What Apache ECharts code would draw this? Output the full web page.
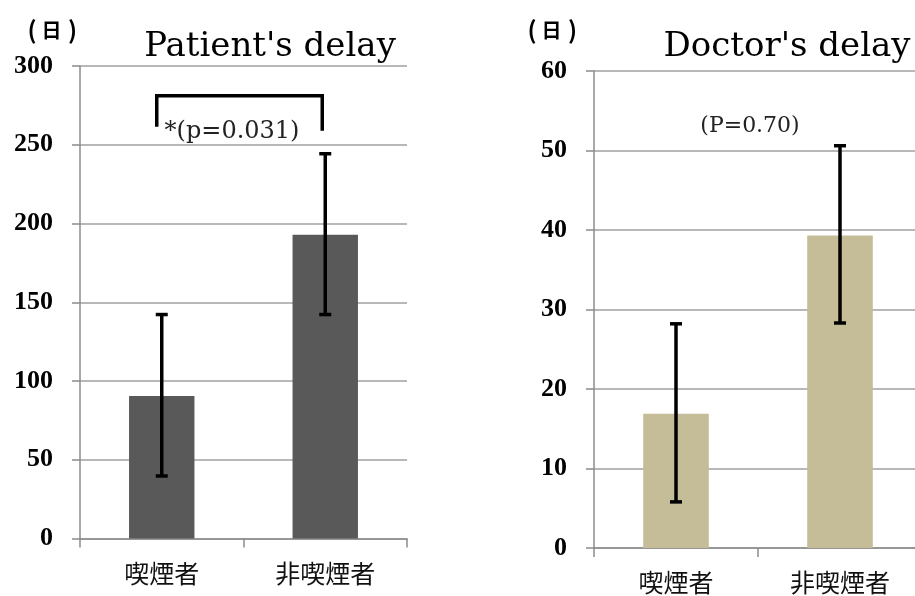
<!DOCTYPE html>
<html>
<head>
<meta charset="utf-8">
<script src="https://cdn.jsdelivr.net/npm/echarts@6/dist/echarts.min.js"></script>
<style>html,body{margin:0;padding:0;background:#fff;}#c{width:915px;height:596px;}</style>
</head>
<body>
<div id="c"></div>
<script>
// ---- data ----
const categories = ['喫煙者', '非喫煙者'];
const patientMean = [90.5, 192.8];
const patientLow = [39.7, 142.2];
const patientHigh = [142.2, 244.3];
const doctorMean = [16.9, 39.3];
const doctorLow = [5.8, 28.3];
const doctorHigh = [28.2, 50.6];
const patientAxis = { min: 0, max: 300, interval: 50 };
const doctorAxis = { min: 0, max: 60, interval: 10 };
// significance bracket for Patient's delay: [top, left bottom, right bottom]
const bracketLevels = [281.1, 261.4, 258.9];
const titles = ["Patient's delay", "Doctor's delay"];
const unitLabel = ['(', '日', ')'];
const pLabels = ['*(p=0.031)', '(P=0.70)'];

const chart = echarts.init(document.getElementById('c'));

const serif = '"DejaVu Serif", "Liberation Serif", serif';
const tickFont = '"Liberation Serif", "DejaVu Serif", serif';
const cjk = '"Noto Sans CJK JP", "Noto Sans CJK SC", sans-serif';

function errData(lo, hi) { return lo.map((v, i) => [i, v, hi[i]]); }

function errRender(params, api) {
  const x = api.value(0);
  const lo = api.coord([x, api.value(1)]);
  const hi = api.coord([x, api.value(2)]);
  const half = 6;
  const st = { stroke: '#000', lineWidth: 3.5 };
  return {
    type: 'group',
    children: [
      { type: 'line', shape: { x1: lo[0], y1: lo[1], x2: hi[0], y2: hi[1] }, style: st },
      { type: 'line', shape: { x1: lo[0] - half, y1: lo[1], x2: lo[0] + half, y2: lo[1] }, style: st },
      { type: 'line', shape: { x1: hi[0] - half, y1: hi[1], x2: hi[0] + half, y2: hi[1] }, style: st }
    ]
  };
}

function yAxisCfg(gridIndex, a) {
  return {
    type: 'value', gridIndex: gridIndex, min: a.min, max: a.max, interval: a.interval,
    axisLine: { show: true, lineStyle: { color: '#8c8c8c', width: 1.5 } },
    axisTick: { show: true, length: 8, lineStyle: { color: '#8c8c8c', width: 1.5 } },
    splitLine: { show: true, lineStyle: { color: '#a0a0a0', width: 1.5 } },
    axisLabel: { margin: 27, color: '#000', fontFamily: tickFont, fontWeight: 'bold', fontSize: 26 }
  };
}
function xAxisCfg(gridIndex) {
  return {
    type: 'category', gridIndex: gridIndex, data: categories,
    axisLine: { show: true, lineStyle: { color: '#8c8c8c', width: 1.5 } },
    axisTick: { show: true, length: 9, alignWithLabel: false, lineStyle: { color: '#8c8c8c', width: 1.5 } },
    axisLabel: { margin: 22, color: '#111', fontFamily: cjk, fontSize: 25 }
  };
}

function txt(x, y, text, size, family, weight, align, vAlign, fill) {
  return {
    type: 'text', x: x, y: y,
    style: { text: text, fontSize: size, fontFamily: family, fontWeight: weight, fill: fill || '#000', align: align, verticalAlign: vAlign }
  };
}

function unitText(x0) {
  const xs = [x0, x0 + 19.5, x0 + 40.5];
  return unitLabel.map((c, i) => txt(xs[i], 30, c, i === 1 ? 20 : 24, cjk, 'bold', 'center', 'middle'));
}

chart.setOption({
  animation: false,
  grid: [
    { left: 80, top: 66, width: 327, height: 472.5, outerBoundsMode: 'none', containLabel: false },
    { left: 594, top: 71, width: 328, height: 477, outerBoundsMode: 'none', containLabel: false }
  ],
  xAxis: [xAxisCfg(0), xAxisCfg(1)],
  yAxis: [yAxisCfg(0, patientAxis), yAxisCfg(1, doctorAxis)],
  series: [
    { type: 'bar', xAxisIndex: 0, yAxisIndex: 0, data: patientMean, barWidth: '40%', itemStyle: { color: '#595959' } },
    { type: 'bar', xAxisIndex: 1, yAxisIndex: 1, data: doctorMean, barWidth: '40%', itemStyle: { color: '#c4bd97' } },
    { type: 'custom', xAxisIndex: 0, yAxisIndex: 0, data: errData(patientLow, patientHigh), renderItem: errRender, z: 5 },
    { type: 'custom', xAxisIndex: 1, yAxisIndex: 1, data: errData(doctorLow, doctorHigh), renderItem: errRender, z: 5 },
    {
      type: 'custom', xAxisIndex: 0, yAxisIndex: 0, z: 5,
      data: [[0, 1].concat(bracketLevels)],
      renderItem: function (params, api) {
        const top = api.value(2);
        const lt = api.coord([api.value(0), top]);
        const rt = api.coord([api.value(1), top]);
        const lb = api.coord([api.value(0), api.value(3)]);
        const rb = api.coord([api.value(1), api.value(4)]);
        const lx = lt[0] - 5, rx = rt[0] - 3;
        return {
          type: 'polyline',
          shape: { points: [[lx, lb[1]], [lx, lt[1]], [rx, rt[1]], [rx, rb[1]]] },
          style: { stroke: '#000', lineWidth: 3.5, fill: null }
        };
      }
    }
  ],
  graphic: unitText(32).concat(unitText(532)).concat([
    txt(270, 47, titles[0], 34, serif, 'normal', 'center', 'middle'),
    txt(787, 47, titles[1], 34, serif, 'normal', 'center', 'middle'),
    txt(232, 132, pLabels[0], 24, serif, 'normal', 'center', 'middle', '#222'),
    txt(750, 126, pLabels[1], 22, serif, 'normal', 'center', 'middle', '#222')
  ])
});
</script>
</body>
</html>
